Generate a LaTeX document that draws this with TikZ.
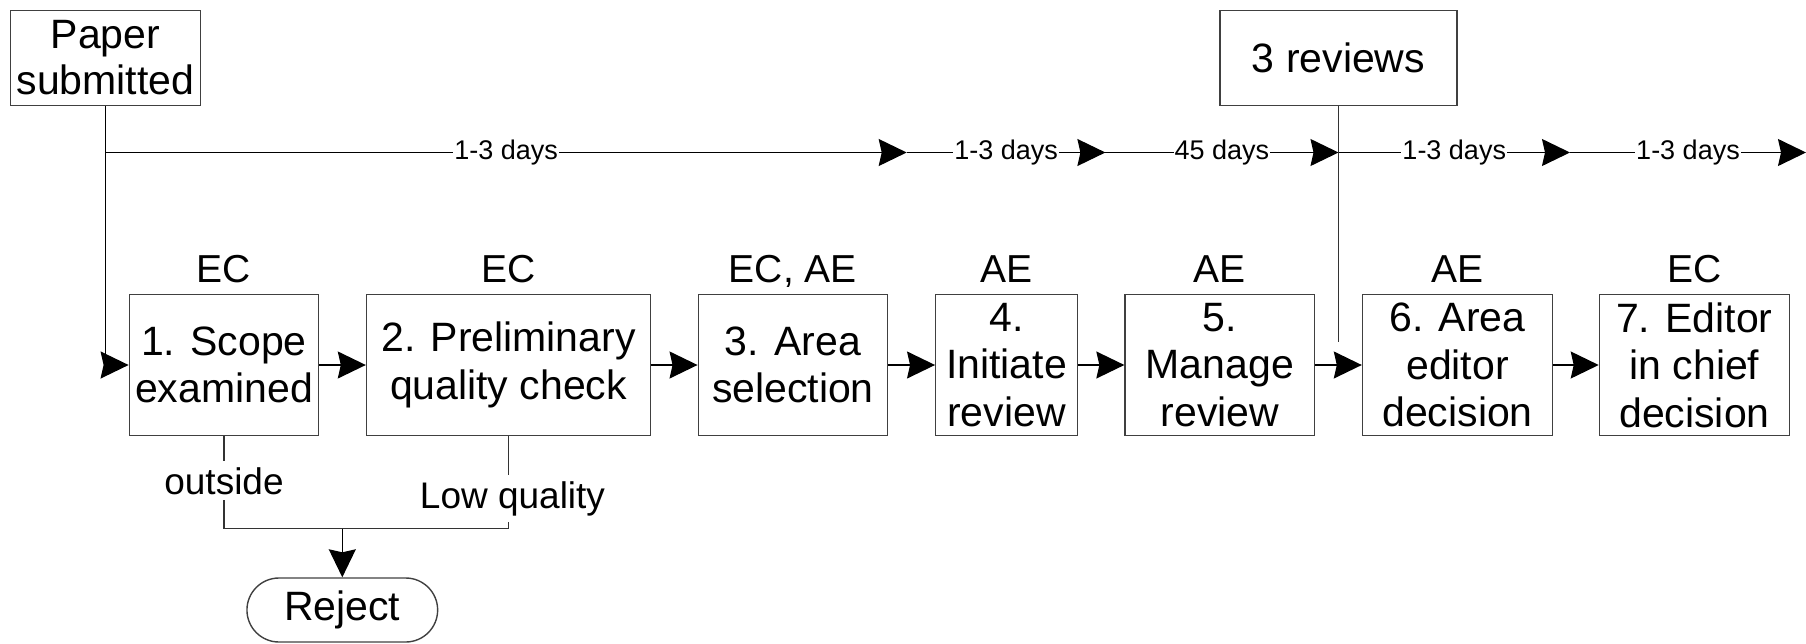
\documentclass[tikz,border=0pt]{standalone}
\usepackage{fontspec}
\setmainfont{Liberation Sans}
\usetikzlibrary{arrows.meta,calc}
\begin{document}
\begin{tikzpicture}[x=1pt,y=-1pt,
  box/.style={draw=black!75, line width=1.4pt, inner sep=0pt, align=center,
    font=\fontsize{41}{47.5}\selectfont, minimum height=141.4pt},
  role/.style={anchor=base, inner sep=0pt, font=\fontsize{39}{45}\selectfont},
  days/.style={fill=white, inner xsep=1pt, inner ysep=2pt, font=\fontsize{27}{30}\selectfont},
  cond/.style={fill=white, inner xsep=2pt, inner ysep=6pt, anchor=base, font=\fontsize{37}{42}\selectfont},
  conn/.style={line width=1.3pt, draw=black!80},
  arr/.style={line width=1.3pt, -{Stealth[length=28pt,width=27pt,inset=3pt]}},
]
\useasboundingbox (0,0) rectangle (1806,643);

% top boxes
\node[box, minimum width=189.6pt, minimum height=94.6pt, font=\fontsize{41}{46}\selectfont] (paper) at (105.5,58) {Paper\\submitted};
\node[box, minimum width=236.7pt, minimum height=94.6pt] (rev) at (1338.5,58) {3 reviews};

% process boxes
\node[box, minimum width=189.4pt] (b1) at (224,365) {1. Scope\\examined};
\node[box, minimum width=284pt]   (b2) at (508.5,365) {2. Preliminary\\quality check};
\node[box, minimum width=189.3pt] (b3) at (792.9,365) {3. Area\\selection};
\node[box, minimum width=141.5pt] (b4) at (1006.5,365) {4.\\Initiate\\review};
\node[box, minimum width=189.7pt] (b5) at (1219.9,365) {5.\\Manage\\review};
\node[box, minimum width=190pt]   (b6) at (1457.5,365) {6. Area\\editor\\decision};
\node[box, minimum width=190pt]   (b7) at (1694.4,365) {7. Editor\\in chief\\decision};

% role labels
\coordinate (rb) at (0,282.3);
\node[role] (r1) at (b1.north |- rb) {EC};
\node[role] (r2) at (b2.north |- rb) {EC};
\node[role] (r3) at (b3.north |- rb) {EC, AE};
\node[role] (r4) at (b4.north |- rb) {AE};
\node[role] (r5) at (b5.north |- rb) {AE};
\node[role] (r6) at (b6.north |- rb) {AE};
\node[role] (r7) at (b7.north |- rb) {EC};

% reject
\node[draw=black!75, line width=1.4pt, rounded corners=32pt, minimum width=190.7pt,
  minimum height=64pt, inner sep=0pt, font=\fontsize{41}{48}\selectfont] (rej) at (342.3,610) {Reject};

% timeline
\coordinate (ty) at (0,152.5);
\coordinate (t0) at (paper.south |- ty);
\coordinate (t1) at (906.7,152.5);
\coordinate (t2) at (1105.4,152.5);
\coordinate (t3) at (rev.south |- ty);
\coordinate (t4) at (1570,152.5);
\coordinate (t5) at (1806,152.5);
\draw[arr] (t0) -- node[days] (d1) {1-3 days} (t1);
\draw[arr] (t1) -- node[days] (d2) {1-3 days} (t2);
\draw[arr] (t2) -- node[days] (d3) {45 days} (t3);
\draw[arr] (t3) -- node[days] (d4) {1-3 days} (t4);
\draw[arr] (t4) -- node[days] (d5) {1-3 days} (t5);

% paper to box 1
\draw[arr] (paper.south) |- (b1.west);

% reviews line
\coordinate (ry) at (0,342);
\draw[conn] (rev.south) -- (rev.south |- ry);

% box arrows
\draw[arr] (b1.east) -- (b2.west);
\draw[arr] (b2.east) -- (b3.west);
\draw[arr] (b3.east) -- (b4.west);
\draw[arr] (b4.east) -- (b5.west);
\draw[arr] (b5.east) -- (b6.west);
\draw[arr] (b6.east) -- (b7.west);

% reject branch
\coordinate (jy) at (0,528.7);
\draw[conn] (b1.south) -- (b1.south |- jy) -- (b2.south |- jy) -- (b2.south);
\node[cond] (out) at (224,494) {outside};
\node[cond] (lowq) at (512.5,508.3) {Low quality};
\draw[arr] (rej.north |- jy) -- (rej.north);
\end{tikzpicture}
\end{document}
